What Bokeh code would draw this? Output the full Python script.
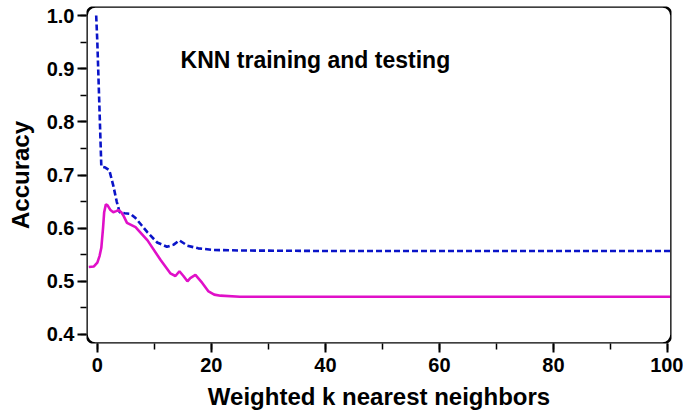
from bokeh.plotting import figure
from bokeh.models import Range1d, SingleIntervalTicker, NumeralTickFormatter, BoxAnnotation, Label
from bokeh.embed import file_html
from bokeh.resources import INLINE

# --- data ---
train_k = [-0.2, 0.0, 0.3, 0.7, 1.4, 2.1, 2.8, 3.4, 3.9, 4.8, 5.8, 6.7, 7.8, 8.8, 10.5, 12.2, 13.4, 14.4, 15.8, 17.7, 20.4, 25, 40, 60, 80, 100.5]
train_acc = [1.0, 0.95, 0.85, 0.716, 0.714, 0.709, 0.68, 0.65, 0.630, 0.628, 0.627, 0.619, 0.605, 0.592, 0.573, 0.565, 0.569, 0.577, 0.567, 0.562, 0.559, 0.558, 0.557, 0.557, 0.557, 0.557]

test_k = [-1.5, -0.6, 0.0, 0.4, 0.7, 1.0, 1.2, 1.5, 1.8, 2.3, 2.8, 3.3, 3.7, 4.2, 4.6, 5.2, 6.7, 8.8, 11.1, 12.8, 13.7, 14.4, 15.1, 15.8, 16.3, 17.2, 18.4, 19.5, 20.5, 21.6, 25, 40, 60, 80, 100.5]
test_acc = [0.527, 0.528, 0.535, 0.548, 0.563, 0.600, 0.630, 0.645, 0.643, 0.634, 0.630, 0.632, 0.634, 0.630, 0.623, 0.610, 0.602, 0.577, 0.540, 0.515, 0.510, 0.519, 0.510, 0.500, 0.506, 0.512, 0.497, 0.481, 0.475, 0.473, 0.471, 0.471, 0.471, 0.471, 0.471]

x_ticks = [0, 20, 40, 60, 80, 100]
y_ticks = [0.4, 0.5, 0.6, 0.7, 0.8, 0.9, 1.0]

title_text = "KNN training and testing"
x_label = "Weighted k nearest neighbors"
y_label = "Accuracy"

FONT = "Liberation Sans"

p = figure(width=683, height=417, output_backend="svg", toolbar_location=None,
           x_range=Range1d(-1.9, 100.7), y_range=Range1d(0.383, 1.017),
           min_border_left=86, min_border_right=12, min_border_top=6, min_border_bottom=74)

p.background_fill_color = "white"
p.border_fill_color = "white"
p.outline_line_color = None
p.xgrid.grid_line_color = None
p.ygrid.grid_line_color = None

p.line(train_k, train_acc, line_color="#0a14c8", line_width=2.6, line_dash="6 3")
p.line(test_k, test_acc, line_color="#e010c8", line_width=2.6)

# rounded frame
p.add_layout(BoxAnnotation(fill_alpha=0, line_color="black", line_alpha=1.0, line_width=2.6,
                           border_radius=9, level="overlay"))

p.add_layout(Label(x=14.6, y=0.917, text=title_text, text_font=FONT, text_font_size="23px",
                   text_font_style="bold", text_color="black", text_baseline="alphabetic"))

p.xaxis.ticker = SingleIntervalTicker(interval=20, num_minor_ticks=2)
p.yaxis.ticker = SingleIntervalTicker(interval=0.1, num_minor_ticks=2)
p.yaxis.formatter = NumeralTickFormatter(format="0.0")

for ax in (p.xaxis[0], p.yaxis[0]):
    ax.axis_line_color = None
    ax.major_tick_line_color = "black"
    ax.minor_tick_line_color = "black"
    ax.major_tick_line_width = 2
    ax.minor_tick_line_width = 1.5
    ax.major_tick_in = 0
    ax.minor_tick_in = 0
    ax.major_tick_out = 9
    ax.minor_tick_out = 6
    ax.major_label_text_font = FONT
    ax.major_label_text_font_style = "bold"
    ax.major_label_text_font_size = "20px"
    ax.major_label_text_color = "black"
    ax.axis_label_text_font = FONT
    ax.axis_label_text_font_style = "bold"
    ax.axis_label_text_font_size = "24px"
    ax.axis_label_text_color = "black"

p.xaxis.axis_label = x_label
p.yaxis.axis_label = y_label
p.xaxis.major_label_standoff = 5
p.yaxis.major_label_standoff = 3
p.xaxis.axis_label_standoff = 8
p.yaxis.axis_label_standoff = 10

open("out.html", "w").write(file_html(p, INLINE))
